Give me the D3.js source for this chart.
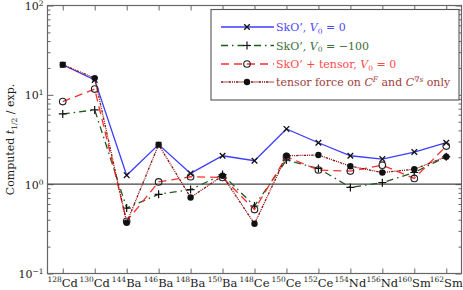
<!DOCTYPE html>
<html>
<head>
<meta charset="utf-8">
<script src="https://cdn.jsdelivr.net/npm/d3@7"></script>
<style>
  body { margin: 0; background: #fff; }
</style>
</head>
<body>
<script>
'use strict';

// nuclei on the x axis: mass number + element
var masses = ['128', '130', '144', '146', '148', '150', '148', '150', '152', '154', '156', '160', '162'];
var elements = ['Cd', 'Cd', 'Ba', 'Ba', 'Ba', 'Ba', 'Ce', 'Ce', 'Ce', 'Nd', 'Nd', 'Sm', 'Sm'];

// computed t1/2 divided by experiment
var skoV0 = [21.7, 14.7, 1.26, 2.77, 1.32, 2.08, 1.83, 4.15, 2.91, 2.08, 1.91, 2.29, 2.91];
var skoV100 = [6.12, 6.78, 0.54, 0.77, 0.87, 1.28, 0.57, 1.86, 1.50, 0.92, 1.04, 1.35, 2.03];
var skoTensor = [8.4, 11.6, 0.384, 1.06, 1.21, 1.19, 0.52, 2.03, 1.44, 1.40, 1.63, 1.16, 2.67];
var tensorCF = [21.7, 15.4, 0.37, 2.77, 0.71, 1.24, 0.36, 2.08, 2.12, 1.59, 1.35, 1.47, 2.03];

var yTickPowers = [-1, 0, 1, 2];

var width = 463;
var height = 290;
var pLeft = 47.5, pRight = 461.5, pTop = 5.5, pBottom = 273.5;

var categories = masses.map(function(m, i) { return m + elements[i] + i; });

var x = d3.scalePoint().domain(categories).range([pLeft, pRight]).padding(0.477);
var y = d3.scaleLog().domain([0.1, 100]).range([pBottom, pTop]);

var svg = d3.select('body').append('svg')
  .attr('width', width)
  .attr('height', height)
  .attr('font-family', '"DejaVu Serif", "Liberation Serif", serif')
  .style('display', 'block');

var frameColor = '#666';

// frame
svg.append('rect')
  .attr('x', pLeft).attr('y', pTop)
  .attr('width', pRight - pLeft).attr('height', pBottom - pTop)
  .attr('fill', 'none').attr('stroke', frameColor).attr('stroke-width', 1.2);

// minor + major y ticks, both sides, pointing inward
var minorVals = [];
[0.1, 1, 10].forEach(function(d) {
  for (var k = 2; k <= 9; k++) minorVals.push(d * k);
});
var majorVals = yTickPowers.map(function(p) { return Math.pow(10, p); });

function yTicks(axisFn, xpos, vals, size) {
  var g = svg.append('g')
    .attr('transform', 'translate(' + xpos + ',0)')
    .call(axisFn(y).tickValues(vals).tickSize(size).tickFormat(''));
  g.select('.domain').remove();
  g.selectAll('line').attr('stroke', frameColor).attr('stroke-width', 1);
}
yTicks(d3.axisLeft, pLeft, minorVals, -3);
yTicks(d3.axisLeft, pLeft, majorVals, -6);
yTicks(d3.axisRight, pRight, minorVals, -3);
yTicks(d3.axisRight, pRight, majorVals, -6);

// x ticks top and bottom
function xTicks(axisFn, ypos) {
  var g = svg.append('g')
    .attr('transform', 'translate(0,' + ypos + ')')
    .call(axisFn(x).tickSize(-5).tickFormat(''));
  g.select('.domain').remove();
  g.selectAll('line').attr('stroke', frameColor).attr('stroke-width', 1);
}
xTicks(d3.axisBottom, pBottom);
xTicks(d3.axisTop, pTop);

// y tick labels 10^n
var yl = svg.append('g');
yTickPowers.forEach(function(p) {
  var t = yl.append('text')
    .attr('x', pLeft - 4)
    .attr('y', y(Math.pow(10, p)) + 4.5)
    .attr('text-anchor', 'end')
    .attr('font-size', 11)
    .attr('fill', '#222');
  t.append('tspan').text('10');
  t.append('tspan').attr('dy', -4).attr('font-size', 7.5).text(p < 0 ? '\u2212' + (-p) : p);
});

// x tick labels with superscript mass number
categories.forEach(function(c, i) {
  var t = svg.append('text')
    .attr('x', x(c))
    .attr('y', pBottom + 13)
    .attr('text-anchor', 'middle')
    .attr('font-size', 11.5)
    .attr('fill', '#222');
  t.append('tspan').attr('dy', -5).attr('font-size', 7.5).text(masses[i]);
  t.append('tspan').attr('dy', 5).text(elements[i]);
});

// y axis label
var ylab = svg.append('text')
  .attr('transform', 'translate(14,' + ((pTop + pBottom) / 2) + ') rotate(-90)')
  .attr('text-anchor', 'middle')
  .attr('font-size', 11)
  .attr('fill', '#222');
ylab.append('tspan').text('Computed ');
ylab.append('tspan').attr('font-style', 'italic').text('t');
ylab.append('tspan').attr('dy', 3).attr('font-size', 7.5).text('1/2');
ylab.append('tspan').attr('dy', -3).text(' / exp.');

// reference line at 1
svg.append('line')
  .attr('x1', pLeft).attr('x2', pRight)
  .attr('y1', y(1)).attr('y2', y(1))
  .attr('stroke', '#444').attr('stroke-width', 1.1);

var series = [
  { values: skoV0, color: '#3d3dff', text: '#4a4aff', dash: null, marker: 'x' },
  { values: skoV100, color: '#1f5a1f', text: '#3b6e3b', dash: '7,4,1.5,4', marker: '+' },
  { values: skoTensor, color: '#ff2e2e', text: '#ff4a4a', dash: '8,5', marker: 'o' },
  { values: tensorCF, color: '#8c1010', text: '#a04040', dash: '2.5,1,1,1,1,1', marker: 'dot' }
];

var line = d3.line()
  .x(function(d, i) { return x(categories[i]); })
  .y(function(d) { return y(d); });

function drawMarker(g, type, cx, cy) {
  if (type === 'x') {
    g.append('path')
      .attr('d', 'M' + (cx - 2.8) + ',' + (cy - 2.8) + 'L' + (cx + 2.8) + ',' + (cy + 2.8) +
        'M' + (cx - 2.8) + ',' + (cy + 2.8) + 'L' + (cx + 2.8) + ',' + (cy - 2.8))
      .attr('stroke', '#111').attr('stroke-width', 1.3);
  } else if (type === '+') {
    g.append('path')
      .attr('d', 'M' + (cx - 4) + ',' + cy + 'L' + (cx + 4) + ',' + cy +
        'M' + cx + ',' + (cy - 4) + 'L' + cx + ',' + (cy + 4))
      .attr('stroke', '#111').attr('stroke-width', 1.2);
  } else if (type === 'o') {
    g.append('circle').attr('cx', cx).attr('cy', cy).attr('r', 3.3)
      .attr('fill', 'none').attr('stroke', '#222').attr('stroke-width', 1.1);
  } else {
    g.append('circle').attr('cx', cx).attr('cy', cy).attr('r', 3.2)
      .attr('fill', '#111');
  }
}

series.forEach(function(s) {
  svg.append('path')
    .datum(s.values)
    .attr('d', line)
    .attr('fill', 'none')
    .attr('stroke', s.color)
    .attr('stroke-width', 1.3)
    .attr('stroke-dasharray', s.dash);
  var g = svg.append('g');
  s.values.forEach(function(v, i) {
    drawMarker(g, s.marker, x(categories[i]), y(v));
  });
});

// legend
var lg = svg.append('g');
lg.append('rect')
  .attr('x', 211).attr('y', 9.5).attr('width', 248).attr('height', 90.5)
  .attr('fill', '#fff').attr('stroke', '#555').attr('stroke-width', 1.1);

var rowY = [27, 45.5, 64, 82];
series.forEach(function(s, i) {
  var ry = rowY[i];
  lg.append('line')
    .attr('x1', 221).attr('x2', 274).attr('y1', ry).attr('y2', ry)
    .attr('stroke', s.color).attr('stroke-width', 1.3)
    .attr('stroke-dasharray', s.dash);
  drawMarker(lg, s.marker, 247, ry);
  var t = lg.append('text')
    .attr('x', 276).attr('y', ry + 4)
    .attr('font-size', 11)
    .attr('fill', s.text);
  if (i === 0) {
    t.append('tspan').text('SkO\u2019, ');
    t.append('tspan').attr('font-style', 'italic').text('V');
    t.append('tspan').attr('dy', 2.5).attr('font-size', 7.5).text('0');
    t.append('tspan').attr('dy', -2.5).text(' = 0');
  } else if (i === 1) {
    t.append('tspan').text('SkO\u2019, ');
    t.append('tspan').attr('font-style', 'italic').text('V');
    t.append('tspan').attr('dy', 2.5).attr('font-size', 7.5).text('0');
    t.append('tspan').attr('dy', -2.5).text(' = \u2212100');
  } else if (i === 2) {
    t.append('tspan').text('SkO\u2019 + tensor, ');
    t.append('tspan').attr('font-style', 'italic').text('V');
    t.append('tspan').attr('dy', 2.5).attr('font-size', 7.5).text('0');
    t.append('tspan').attr('dy', -2.5).text(' = 0');
  } else {
    t.append('tspan').text('tensor force on ');
    t.append('tspan').attr('font-style', 'italic').text('C');
    t.append('tspan').attr('dy', -4).attr('font-size', 7.5).attr('font-style', 'italic').text('F');
    t.append('tspan').attr('dy', 4).text(' and ');
    t.append('tspan').attr('font-style', 'italic').text('C');
    t.append('tspan').attr('dy', -4).attr('font-size', 7.5).text('\u2207');
    t.append('tspan').attr('font-size', 7.5).attr('font-style', 'italic').text('s');
    t.append('tspan').attr('dy', 4).text(' only');
  }
});
</script>
</body>
</html>
